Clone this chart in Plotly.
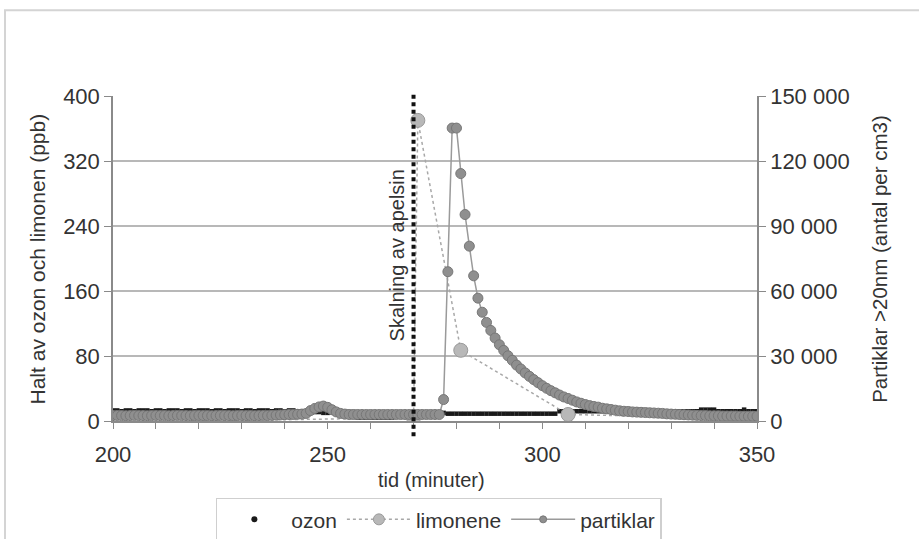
import plotly.graph_objects as go

# ---------------- data ----------------
minutes = list(range(200, 351))

ozon = [
    13, 13, 12, 13, 13, 12, 13, 13, 13, 12,   # 200-209
    13, 13, 12, 13, 13, 13, 12, 13, 13, 12,   # 210-219
    13, 13, 13, 12, 13, 13, 12, 13, 13, 13,   # 220-229
    12, 13, 13, 12, 13, 13, 13, 12, 13, 13,   # 230-239
    12, 13, 13, 12, 12, 12, 11, 11, 11, 10,   # 240-249
    10, 11, 11, 11, 11, 11, 11, 4, 4, 4,      # 250-259
    4, 4, 4, 4, 4, 4, 10, 10, 10, 10,         # 260-269
    10, 10, 10, 10, 10, 10, 10, 10, 9, 9,     # 270-279
    9, 9, 9, 9, 9, 9, 9, 9, 9, 9,             # 280-289
    9, 9, 9, 9, 9, 9, 9, 9, 9, 9,             # 290-299
    9, 9, 9, 9, 12, 12, 12, 12, 12, 12,       # 300-309
    12, 12, 12, 12, 12, 12, 12, 12, 12, 12,   # 310-319
    12, 12, 12, 12, 12, 12, 12, 12, 12, 12,   # 320-329
    12, 12, 12, 12, 12, 12, 12, 14, 14, 14,   # 330-339
    14, 12, 12, 12, 12, 12, 12, 14, 12, 12,   # 340-349
    12,                                       # 350
]

partiklar = [
    2500, 2550, 2500, 2450, 2500, 2550, 2500, 2500, 2450, 2500,   # 200-209
    2550, 2500, 2500, 2450, 2500, 2550, 2500, 2500, 2450, 2500,   # 210-219
    2550, 2500, 2500, 2450, 2500, 2550, 2500, 2500, 2450, 2500,   # 220-229
    2550, 2500, 2500, 2450, 2500, 2550, 2500, 2600, 2700, 2800,   # 230-239
    2900, 3000, 3000, 3100, 3200, 3500, 4800, 5800, 6500, 6900,   # 240-249
    6300, 5200, 4200, 3500, 3200, 3000, 3000, 3000, 3000, 3000,   # 250-259
    3000, 3000, 3000, 3000, 3000, 3000, 3000, 3000, 3000, 3000,   # 260-269
    3000, 3000, 3000, 3000, 3000, 3000, 3000, 9900, 68900, 135200,            # 270-279
    135200, 114200, 95300, 80700, 67000, 56700, 50200, 45500, 41800, 38300,   # 280-289
    35200, 32600, 30100, 28000, 25800, 24000, 22200, 20600, 19100, 17700,     # 290-299
    16300, 15100, 14000, 13000, 12000, 11100, 10400, 9600, 8800, 8200,        # 300-309
    7600, 7100, 6700, 6400, 5900, 5600, 5300, 5000, 4700, 4500,               # 310-319
    4400, 4200, 4100, 4000, 3900, 3800, 3700, 3600, 3500, 3300,               # 320-329
    3200, 3100, 3000, 2900, 2800, 2700, 2600, 2500, 2500, 2400,               # 330-339
    2400, 2400, 2300, 2300, 2300, 2300, 2200, 2200, 2200, 2200,               # 340-349
    2200,                                                                     # 350
]

limonene_t = [220, 270, 271, 281, 306, 349]
limonene = [0, 4, 370, 87, 8, 3]

event_t = 270
event_label = "Skalning av apelsin"

left_ticks = [0, 80, 160, 240, 320, 400]
right_ticks = [0, 30000, 60000, 90000, 120000, 150000]
x_ticks = [200, 250, 300, 350]

FONT = "Liberation Sans, Arial, sans-serif"
TXT = "#333333"
AX = "#8a8a8a"

OZ_C = "#1a1a1a"
LIM_LINE, LIM_FILL, LIM_EDGE = "#a8a8a8", "#b8b8b8", "#9a9a9a"
PAR_LINE, PAR_FILL, PAR_EDGE = "#9a9a9a", "#8f8f8f", "#777777"

fig = go.Figure()

# ---- data traces (legend drawn separately with legend-styled entries) ----
fig.add_trace(go.Scatter(
    x=minutes, y=ozon, name="ozon", mode="markers", showlegend=False,
    marker=dict(symbol="square", size=4.5, color=OZ_C), yaxis="y",
))
fig.add_trace(go.Scatter(
    x=limonene_t, y=limonene, name="limonene", mode="lines+markers", showlegend=False,
    line=dict(color=LIM_LINE, width=1.5, dash="dot"),
    marker=dict(size=14, color=LIM_FILL, line=dict(color=LIM_EDGE, width=1)),
    yaxis="y",
))
fig.add_trace(go.Scatter(
    x=minutes, y=partiklar, name="partiklar", mode="lines+markers", showlegend=False,
    line=dict(color=PAR_LINE, width=1.5),
    marker=dict(size=10, color=PAR_FILL, line=dict(color=PAR_EDGE, width=1)),
    yaxis="y2",
))

# ---- legend entries ----
fig.add_trace(go.Scatter(x=[None], y=[None], name="ozon", mode="markers",
                         marker=dict(size=6, color=OZ_C)))
fig.add_trace(go.Scatter(x=[None], y=[None], name="limonene", mode="lines+markers",
                         line=dict(color=LIM_LINE, width=1.5, dash="dot"),
                         marker=dict(size=11, color=LIM_FILL, line=dict(color=LIM_EDGE, width=1))))
fig.add_trace(go.Scatter(x=[None], y=[None], name="partiklar", mode="lines+markers",
                         line=dict(color=PAR_LINE, width=1.5),
                         marker=dict(size=7, color=PAR_FILL, line=dict(color=PAR_EDGE, width=1))))

# vertical dotted event line
fig.add_shape(type="line", xref="x", yref="paper",
              x0=event_t, x1=event_t, y0=-0.047, y1=1.012,
              line=dict(color="#111111", width=4, dash="4px,3.5px"), layer="above")

# outer frame
fig.add_shape(type="rect", xref="paper", yref="paper",
              x0=-0.1677, x1=2, y0=-2, y1=1.264,
              line=dict(color="#d4d4d4", width=2), layer="below")

fig.add_annotation(x=event_t, y=0.508, xref="x", yref="paper", text=event_label,
                   textangle=-90, showarrow=False, xshift=-17,
                   xanchor="center", yanchor="middle",
                   font=dict(family=FONT, size=20, color=TXT))
fig.add_annotation(x=-0.1165, y=0.5, xref="paper", yref="paper",
                   text="Halt av ozon och limonen (ppb)", textangle=-90,
                   xanchor="center", yanchor="middle",
                   showarrow=False, font=dict(family=FONT, size=21, color=TXT))
fig.add_annotation(x=1.19, y=0.5, xref="paper", yref="paper",
                   text="Partiklar >20nm (antal per cm3)", textangle=-90,
                   xanchor="center", yanchor="middle",
                   showarrow=False, font=dict(family=FONT, size=20.5, color=TXT))
fig.add_annotation(x=0.495, y=-0.182, xref="paper", yref="paper",
                   text="tid (minuter)", showarrow=False,
                   xanchor="center", yanchor="middle",
                   font=dict(family=FONT, size=20, color=TXT))

fig.update_layout(
    width=919, height=539,
    margin=dict(l=113, r=162, t=96, b=118, autoexpand=False),
    paper_bgcolor="white", plot_bgcolor="white",
    separators=". ",
    font=dict(family=FONT, size=22, color=TXT),
    showlegend=True,
    legend=dict(orientation="h", x=0.506, xanchor="center", y=-0.236, yanchor="top",
                bordercolor="#cfcfcf", borderwidth=1.5, bgcolor="white",
                font=dict(family=FONT, size=21, color=TXT), itemwidth=64),
    xaxis=dict(range=[200, 350], tickvals=x_ticks, showgrid=False,
               showline=True, linecolor=AX, linewidth=1.5,
               ticks="outside", ticklen=6, tickcolor=AX,
               minor=dict(dtick=10, ticks="outside", ticklen=6, tickcolor=AX),
               ticklabelstandoff=7, zeroline=False),
    yaxis=dict(range=[0, 400], tickvals=left_ticks, showgrid=True,
               gridcolor="#b8b8b8", gridwidth=1.5,
               showline=True, linecolor=AX, linewidth=1.5,
               ticks="outside", ticklen=7, tickcolor=AX, zeroline=False),
    yaxis2=dict(range=[0, 150000], tickvals=right_ticks, tickformat=",d",
                overlaying="y", side="right", showgrid=False,
                showline=True, linecolor=AX, linewidth=1.5,
                ticks="outside", ticklen=7, tickcolor=AX, zeroline=False),
)

fig.write_html("out.html")
